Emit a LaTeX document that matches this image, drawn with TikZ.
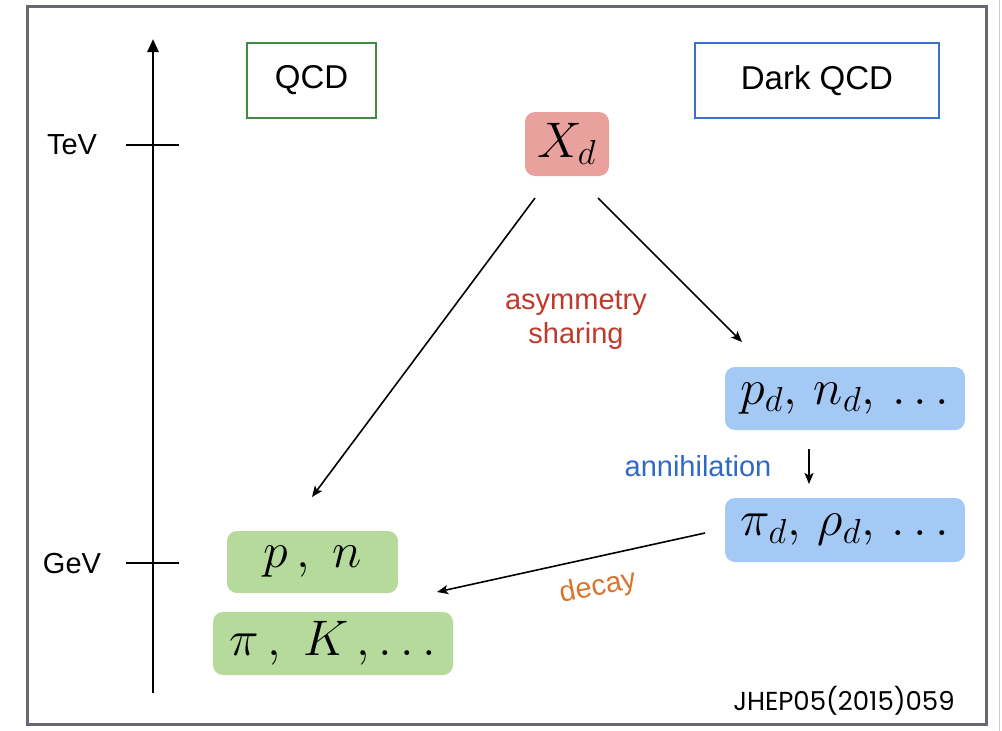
\documentclass[tikz,border=0pt]{standalone}
\usepackage{graphicx}
\usepackage{fontspec}
\setsansfont{Liberation Sans}
\newfontfamily\jhepfont{Poppins}
\usetikzlibrary{arrows.meta}
\DeclareMathSizes{24.88}{24.88}{17.28}{12}
\definecolor{framegray}{RGB}{102,106,112}
\definecolor{qcdgreen}{RGB}{64,140,64}
\definecolor{qcdblue}{RGB}{59,111,204}
\definecolor{xred}{RGB}{232,161,156}
\definecolor{dblue}{RGB}{164,201,244}
\definecolor{lgreen}{RGB}{181,218,155}
\definecolor{asymred}{RGB}{192,57,43}
\definecolor{annblue}{RGB}{48,104,198}
\definecolor{decayorange}{RGB}{217,117,46}
\newcommand{\bigmath}[1]{\scalebox{2.01}{\Huge$#1$}}
\begin{document}
\begin{tikzpicture}[x=1pt,y=-1pt,
  lbl/.style={font=\sffamily\fontsize{29}{32}\selectfont, inner sep=0pt},
  hdr/.style={draw, line width=2.5pt, inner sep=0pt, font=\sffamily\fontsize{33}{36}\selectfont},
  pbox/.style={rounded corners=10pt, inner sep=0pt},
  arr/.style={line width=1.6pt, -{Stealth[length=11pt,width=9pt,inset=2.5pt]}},
  note/.style={font=\sffamily\fontsize{29}{34}\selectfont, inner sep=0pt, align=center},
]
\useasboundingbox (0,0) rectangle (1002,731);
\draw[framegray, line width=3pt] (27,6) rectangle (986,724);
\draw[black!20, line width=1pt] (999.5,0) -- (999.5,731);

% axis
\coordinate (axbot) at (153,693);
\coordinate (axtop) at (153,39);
\draw[line width=2.6pt, -{Triangle[length=13pt,width=11pt]}] (axbot) -- (axtop);
\coordinate (tevL) at (126,145);
\coordinate (tevR) at (179,145);
\coordinate (gevL) at (126,563);
\coordinate (gevR) at (179,563);
\draw[line width=2.6pt] (tevL) -- (tevR);
\draw[line width=2.6pt] (gevL) -- (gevR);
\node[lbl] (tev) at (72,145) {TeV};
\node[lbl] (gev) at (72,564) {GeV};

% headers
\node[hdr, draw=qcdgreen, minimum width=129pt, minimum height=75pt] (qcd) at (311.5,80.5) {QCD};
\node[hdr, draw=qcdblue, minimum width=244pt, minimum height=75pt] (dqcd) at (817,80.5) {Dark QCD};

% particle boxes
\node[pbox, fill=xred, minimum width=84pt, minimum height=64pt] (xd) at (567,144) {\bigmath{X_d}};
\node[pbox, fill=dblue, minimum width=240pt, minimum height=63pt] (pd) at (845,398.5) {\bigmath{p_d,\, n_d,\, \ldots}};
\node[pbox, fill=dblue, minimum width=240pt, minimum height=64pt] (pid) at (845,530) {\bigmath{\pi_d,\, \rho_d,\, \ldots}};
\node[pbox, fill=lgreen, minimum width=171pt, minimum height=62pt] (pn) at (312.5,562) {\bigmath{p\,,\; n}};
\node[pbox, fill=lgreen, minimum width=240pt, minimum height=63pt] (pik) at (333,643.5) {\bigmath{\pi\,,\; K\,,\ldots}};

% connectors
\coordinate (a1s) at (535,198);
\coordinate (a1e) at (312,497);
\coordinate (a2s) at (598,198);
\coordinate (a2e) at (742,342);
\coordinate (dcs) at (705,533);
\coordinate (dce) at (437,592);
\coordinate (ans) at (809,449);
\coordinate (ane) at (809,484);
\draw[arr] (a1s) -- (a1e);
\draw[arr] (a2s) -- (a2e);
\draw[arr] (dcs) -- (dce);
\draw[arr] (ans) -- (ane);

% labels
\node[note, text=asymred] (asym) at (576,320) {asymmetry\\sharing};
\node[note, text=annblue] (ann) at (698,466) {annihilation};
\node[note, text=decayorange, rotate=11] (dec) at (598,588) {decay};
\node[inner sep=0pt, font=\jhepfont\fontsize{26}{30}\selectfont] (jhep) at (844,701) {JHEP05(2015)059};
\end{tikzpicture}
\end{document}
